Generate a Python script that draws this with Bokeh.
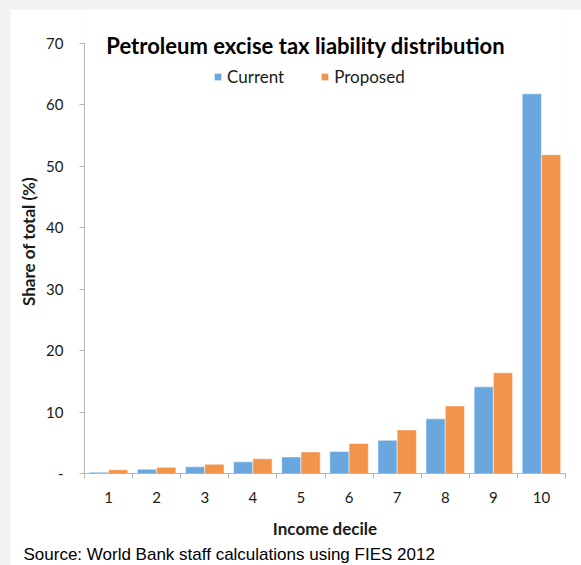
from bokeh.plotting import figure
from bokeh.layouts import column
from bokeh.models import (ColumnDataSource, Range1d, FixedTicker, Label, Legend, LegendItem, Title)
from bokeh.transform import dodge
from bokeh.embed import file_html
from bokeh.resources import INLINE

# ---- data ----
deciles = [1, 2, 3, 4, 5, 6, 7, 8, 9, 10]
current = [0.2, 0.7, 1.1, 1.9, 2.7, 3.6, 5.4, 8.9, 14.1, 61.8]
proposed = [0.6, 1.0, 1.5, 2.4, 3.5, 4.9, 7.1, 11.0, 16.4, 51.9]
y_ticks = [0, 10, 20, 30, 40, 50, 60, 70]
series_names = ["Current", "Proposed"]
title_text = "Petroleum excise tax liability distribution"
x_title = "Income decile"
y_title = "Share of total (%)"
source_text = "Source: World Bank staff calculations using FIES 2012"

FONT = "Lato"
TXT = "#1a1a1a"
BLUE = "#69A7DE"
ORANGE = "#F2954A"
AXIS = "#B5B5B5"

# layout (pixels)
FRAME_H = 431
TOP_GAP = 34          # space above the 70 tick inside the plotting frame
px_per_unit = FRAME_H / (y_ticks[-1] - y_ticks[0])
y_top = y_ticks[-1] + TOP_GAP / px_per_unit

src = ColumnDataSource(dict(x=deciles, cur=current, prop=proposed))

p = figure(width=571, height=556, output_backend="svg", toolbar_location=None,
           x_range=Range1d(deciles[0] - 0.5, deciles[-1] + 0.5),
           y_range=Range1d(y_ticks[0], y_top),
           min_border_left=74, min_border_right=16, min_border_top=0, min_border_bottom=91)
p.margin = (9, 0, 0, 10)
p.outline_line_color = None
p.background_fill_color = "white"
p.border_fill_color = "white"
p.xgrid.visible = False
p.ygrid.visible = False

r1 = p.vbar(x=dodge("x", -0.2, range=p.x_range), top="cur", width=0.4, source=src,
            fill_color=BLUE, line_color="white", line_alpha=0.5, line_width=1)
r2 = p.vbar(x=dodge("x", 0.2, range=p.x_range), top="prop", width=0.4, source=src,
            fill_color=ORANGE, line_color="white", line_alpha=0.5, line_width=1)

# axes
xa = p.xaxis[0]
xa.ticker = FixedTicker(ticks=deciles, minor_ticks=[d - 0.5 for d in deciles] + [deciles[-1] + 0.5])
xa.major_tick_line_color = None
xa.minor_tick_in = 0
xa.minor_tick_out = 5
xa.minor_tick_line_color = AXIS
xa.axis_line_color = AXIS
xa.major_label_text_font = FONT
xa.major_label_text_font_size = "15px"
xa.major_label_text_color = TXT
xa.major_label_standoff = 12
xa.axis_label = x_title
xa.axis_label_text_font = FONT
xa.axis_label_text_font_style = "bold"
xa.axis_label_text_font_size = "17px"
xa.axis_label_text_color = TXT
xa.axis_label_standoff = 12

ya = p.yaxis[0]
ya.ticker = FixedTicker(ticks=y_ticks, minor_ticks=[])
ya.bounds = (y_ticks[0], y_ticks[-1])
ya.major_label_overrides = {0: "-"}
ya.major_tick_in = 0
ya.major_tick_out = 5
ya.major_tick_line_color = AXIS
ya.minor_tick_line_color = None
ya.axis_line_color = AXIS
ya.major_label_text_font = FONT
ya.major_label_text_font_size = "15px"
ya.major_label_text_color = TXT
ya.major_label_standoff = 16
ya.axis_label = y_title
ya.axis_label_text_font = FONT
ya.axis_label_text_font_style = "bold"
ya.axis_label_text_font_size = "17px"
ya.axis_label_text_color = TXT
ya.axis_label_standoff = 4

# chart title inside the plot area
p.add_layout(Label(x=5.1, y=69.7, text=title_text, text_align="center",
                   text_baseline="alphabetic", text_font=FONT,
                   text_font_style="bold", text_font_size="22px", text_color="black"))

# source note below everything
p.add_layout(Title(text=source_text, align="left", offset=-61, standoff=3,
                   text_font="Liberation Sans", text_font_style="normal",
                   text_font_size="17px", text_color="black"), "below")

legend = Legend(items=[LegendItem(label=series_names[0], renderers=[r1]),
                       LegendItem(label=series_names[1], renderers=[r2])],
                orientation="horizontal", location=(129, 386),
                glyph_width=9, glyph_height=9, label_height=9, label_standoff=5,
                spacing=36, padding=0, margin=0, border_line_color=None,
                background_fill_alpha=0, label_text_font=FONT,
                label_text_font_size="17px", label_text_color=TXT)
p.add_layout(legend, "center")

page = column(p, styles={"background-color": "#f2f2f2"})

open("out.html", "w").write(file_html(page, INLINE))
